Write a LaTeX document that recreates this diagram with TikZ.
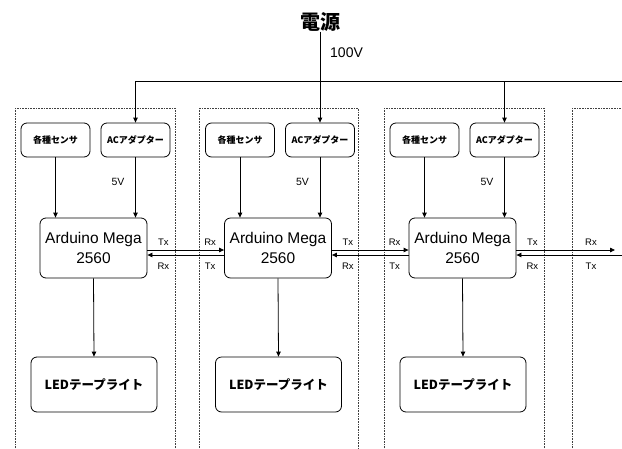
\documentclass[tikz,border=0pt]{standalone}
\usepackage{fontspec}
\setmainfont{Liberation Sans}
\newfontfamily\jp{Noto Sans CJK JP}
\usetikzlibrary{arrows.meta}
\begin{document}
\begin{tikzpicture}[x=1pt,y=-1pt,
  box/.style={draw, rounded corners=6pt, line width=0.8pt, inner sep=0pt, align=center},
  smallbox/.style={box, minimum width=69pt, minimum height=34pt, font=\jp\bfseries\fontsize{9}{11}\selectfont},
  ardbox/.style={box, minimum width=107pt, minimum height=60pt, font=\fontsize{15.5}{19.5}\selectfont},
  ledbox/.style={box, minimum width=126pt, minimum height=55pt, font=\jp\bfseries\fontsize{12.5}{14}\selectfont},
  arr/.style={line width=0.8pt, -{Triangle[length=5pt,width=4.5pt]}},
  ln/.style={line width=0.8pt},
  cont/.style={densely dotted, line width=0.6pt, draw=black!75},
  lbl/.style={inner sep=0pt, font=\fontsize{9.5}{11}\selectfont},
]
\useasboundingbox (0,0) rectangle (622,448);
\clip (0,0) rectangle (622,448);

% containers
\draw[cont] (15,108) rectangle (175,470);
\draw[cont] (199,108) rectangle (358,470);
\draw[cont] (384,108) rectangle (544,470);
\draw[cont] (572,108) rectangle (660,470);

\foreach \i/\dx in {1/0,2/184.5,3/369} {
  \node[smallbox] (s\i) at (55.5+\dx,140) {各種センサ};
  \node[smallbox] (a\i) at (135.5+\dx,140) {ACアダプター};
  \node[ardbox] (m\i) at (93.5+\dx,248) {Arduino Mega\\2560};
  \node[ledbox] (l\i) at (94+\dx,384.5) {LEDテープライト};
  \node[lbl, font=\fontsize{10.5}{12}\selectfont] (v\i) at (118+\dx,182) {5V};
  \draw[arr] (s\i.south) -- (s\i.south |- m\i.north);
  \draw[arr] (a\i.south) -- (a\i.south |- m\i.north);
  \draw[arr] (m\i.south) -- (l\i.north);
}

% power
\node[inner sep=0pt, font=\jp\bfseries\fontsize{20}{22}\selectfont] (pw) at (320,22) {電源};
\node[inner sep=0pt, anchor=west, font=\fontsize{14}{16}\selectfont] (v100) at (330,53) {100V};
\coordinate (hl) at (a1.north |- 0,81);
\coordinate (hr) at (622,81);
\draw[ln] (hl) -- (hr);
\draw[arr] (hl) -- (a1.north);
\draw[arr] (pw.south) -- (a2.north);
\draw[arr] (a3.north |- hr) -- (a3.north);

% serial links
\foreach \i/\j in {1/2,2/3} {
  \draw[arr] ([yshift=-2pt]m\i.east) -- ([yshift=-2pt]m\j.west);
  \draw[arr] ([yshift=-7pt]m\j.west) -- ([yshift=-7pt]m\i.east);
  \node[lbl] (tx\i) at ([xshift=16pt,yshift=6pt]m\i.east) {Tx};
  \node[lbl] (rx\i) at ([xshift=16pt,yshift=-18pt]m\i.east) {Rx};
  \node[lbl] (lrx\j) at ([xshift=-14pt,yshift=6pt]m\j.west) {Rx};
  \node[lbl] (ltx\j) at ([xshift=-14pt,yshift=-18pt]m\j.west) {Tx};
}
\coordinate (re1) at (615,250);
\coordinate (re2) at (622,255);
\draw[arr] ([yshift=-2pt]m3.east) -- (re1);
\draw[arr] (re2) -- ([yshift=-7pt]m3.east);
\node[lbl] (tx3) at ([xshift=16pt,yshift=6pt]m3.east) {Tx};
\node[lbl] (rx3) at ([xshift=16pt,yshift=-18pt]m3.east) {Rx};
\node[lbl] (lrx4) at (591,242) {Rx};
\node[lbl] (ltx4) at (591,266) {Tx};
\end{tikzpicture}
\end{document}
